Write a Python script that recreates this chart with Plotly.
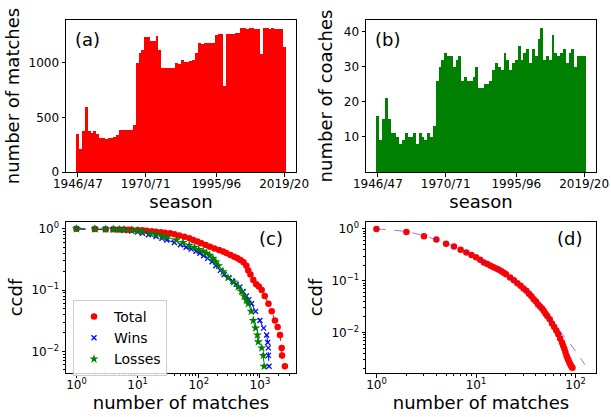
import plotly.graph_objects as go

# ---------------- data ----------------
seasons = [f"{y}/{(y + 1) % 100:02d}" for y in range(1946, 2020)]
season_ticks = ["1946/47", "1970/71", "1995/96", "2019/20"]

matches = [348, 210, 375, 595, 375, 357, 375, 348, 311, 311, 302, 311, 311, 320, 339,
           385, 385, 385, 385, 385, 430, 998, 1084, 1120, 1239, 1239, 1200, 1200, 1245, 1120,
           950, 950, 950, 950, 950, 998, 989, 1026, 1007, 1007, 1017, 1026, 1090, 1181, 1172,
           1181, 1181, 1181, 1181, 1255, 1264, 1264, 788, 1264, 1264, 1264, 1273, 1273, 1319,
           1319, 1310, 1319, 1319, 1310, 1310, 1075, 1319, 1319, 1310, 1319, 1310, 1310, 1310, 1145]

coaches = [16, 9, 15, 21, 15, 11, 11, 10, 8, 9, 11, 10, 10, 11, 8, 11, 10, 9, 11, 10, 13,
           26, 30, 32, 34, 33, 33, 30, 32, 33, 26, 27, 26, 26, 27, 30,
           24, 24, 25, 25, 26, 29, 31, 30, 29, 34, 32, 29, 31, 32, 36, 32, 34, 35, 31, 35,
           33, 38, 41, 32, 33, 32, 39, 34, 33, 34, 35, 31, 34, 35, 30, 33, 33, 33]

tot_x = [1, 2, 3, 4, 5, 6, 7, 8, 10, 12, 14, 17, 20, 24, 28, 34, 40, 48, 58, 70, 81, 95, 110,
         130, 152, 180, 215, 250, 285, 330, 380, 430, 480, 540, 600, 645, 700, 780, 870, 960,
         1070, 1200, 1380, 1560, 1760, 1950, 2130, 2270, 2300, 2560]
tot_y = [1.0, 0.995, 0.99, 0.985, 0.98, 0.975, 0.97, 0.965, 0.955, 0.945, 0.935, 0.915, 0.90,
         0.88, 0.865, 0.845, 0.82, 0.78, 0.74, 0.70, 0.66, 0.62, 0.58, 0.545, 0.51, 0.48, 0.45,
         0.425, 0.40, 0.375, 0.35, 0.33, 0.31, 0.285, 0.25, 0.21, 0.18, 0.146, 0.125, 0.115,
         0.10, 0.08, 0.06, 0.045, 0.032, 0.025, 0.0185, 0.0114, 0.0086, 0.0057]

win_x = [1, 2, 3, 4, 5, 6, 8, 10, 12, 15, 20, 25, 30, 40, 50, 62, 75, 90, 104, 120, 140, 165,
         190, 225, 260, 310, 360, 410, 470, 530, 600, 660, 730, 850, 1000, 1150, 1290, 1340,
         1372, 1380, 1410]
win_y = [1.0, 0.99, 0.985, 0.975, 0.965, 0.95, 0.92, 0.89, 0.85, 0.80, 0.75, 0.70, 0.66, 0.60,
         0.55, 0.50, 0.47, 0.43, 0.40, 0.365, 0.33, 0.29, 0.25, 0.21, 0.18, 0.16, 0.14, 0.125,
         0.113, 0.095, 0.08, 0.07, 0.06, 0.045, 0.032, 0.024, 0.0185, 0.014, 0.0114, 0.0086,
         0.0057]

los_x = [1, 2, 3, 4, 5, 6, 8, 10, 12, 16, 20, 25, 30, 43, 55, 70, 85, 100, 118, 134, 150, 170,
         190, 210, 250, 300, 370, 440, 500, 550, 600, 645, 720, 780, 850, 910, 940, 1070, 1137,
         1170]
los_y = [1.0, 0.995, 0.99, 0.985, 0.98, 0.97, 0.95, 0.93, 0.90, 0.85, 0.81, 0.76, 0.73, 0.66,
         0.60, 0.54, 0.50, 0.46, 0.43, 0.40, 0.37, 0.33, 0.29, 0.25, 0.20, 0.16, 0.135, 0.113,
         0.095, 0.08, 0.068, 0.06, 0.045, 0.032, 0.024, 0.0185, 0.0143, 0.0114, 0.0086, 0.0057]

d_x = [1, 2, 3, 4, 5, 6, 7, 8, 9, 10, 11, 12, 13, 14, 15, 16, 17, 18, 19, 20, 22, 24, 26, 28,
       30, 32, 34, 36, 38, 40, 42, 44, 46, 48, 50, 52, 55, 58, 61, 64, 67, 70, 73, 75, 77, 79,
       81, 83, 85, 87, 89, 91, 93]
d_y = [1.0, 0.877, 0.724, 0.625, 0.516, 0.459, 0.396, 0.352, 0.313, 0.283, 0.255, 0.226, 0.21,
       0.195, 0.182, 0.172, 0.164, 0.153, 0.142, 0.133, 0.116, 0.102, 0.09, 0.08, 0.071, 0.064,
       0.056, 0.05, 0.044, 0.040, 0.035, 0.032, 0.029, 0.026, 0.023, 0.021, 0.018, 0.015,
       0.0128, 0.011, 0.0093, 0.0077, 0.0064, 0.0056, 0.0049, 0.0042, 0.0036, 0.0032, 0.0029,
       0.0026, 0.0024, 0.0022, 0.0021]

fit_x = [1, 2, 3, 5, 7, 10, 15, 20, 30, 40, 55, 70, 85, 100, 124]
fit_y = [1.0, 0.885, 0.74, 0.53, 0.405, 0.29, 0.185, 0.13, 0.07, 0.041, 0.018, 0.0105, 0.0066,
         0.0044, 0.0024]

# ---------------- figure ----------------
W, H = 611, 417
FONT = "DejaVu Sans"
RED, GREEN, BLUE = "#ff0000", "#008000", "#0000ff"


def xd(a, b):
    return [a / W, b / W]


def yd(top, bottom):
    return [1 - bottom / H, 1 - top / H]


fig = go.Figure()

fig.add_trace(go.Bar(x=seasons, y=matches, marker=dict(color=RED, line=dict(width=0)),
                     xaxis="x", yaxis="y", showlegend=False))
fig.add_trace(go.Bar(x=seasons, y=coaches, marker=dict(color=GREEN, line=dict(width=0)),
                     xaxis="x2", yaxis="y2", showlegend=False))

# panel (c): dashed connecting lines then markers
for xs, ys, col in [(tot_x, tot_y, RED), (win_x, win_y, BLUE), (los_x, los_y, GREEN)]:
    fig.add_trace(go.Scatter(x=xs, y=ys, mode="lines", line=dict(color=col, width=1, dash="dash"),
                             xaxis="x3", yaxis="y3", showlegend=False, hoverinfo="skip"))
fig.add_trace(go.Scatter(x=tot_x, y=tot_y, mode="markers", name="Total",
                         marker=dict(color=RED, size=6.5, symbol="circle"),
                         xaxis="x3", yaxis="y3"))
fig.add_trace(go.Scatter(x=win_x, y=win_y, mode="markers", name="Wins",
                         marker=dict(color=BLUE, size=5, symbol="x-thin",
                                     line=dict(color=BLUE, width=1.3)),
                         xaxis="x3", yaxis="y3"))
fig.add_trace(go.Scatter(x=los_x, y=los_y, mode="markers", name="Losses",
                         marker=dict(color=GREEN, size=7, symbol="star"),
                         xaxis="x3", yaxis="y3"))

# panel (d)
fig.add_trace(go.Scatter(x=d_x, y=d_y, mode="markers", marker=dict(color=RED, size=6.5),
                         xaxis="x4", yaxis="y4", showlegend=False))
fig.add_trace(go.Scatter(x=fit_x, y=fit_y, mode="lines",
                         line=dict(color="rgba(40,40,255,0.6)", width=1, dash="dash", shape="spline"),
                         xaxis="x4", yaxis="y4", showlegend=False))

axis_common = dict(showline=True, linecolor="black", linewidth=1, mirror=True,
                   ticks="outside", ticklen=3.5, tickwidth=0.8, tickcolor="black",
                   showgrid=False, zeroline=False, automargin=False,
                   tickfont=dict(family=FONT, size=12, color="black"))
xaxis_common = dict(axis_common, ticklabelstandoff=-3)
title_font = dict(family=FONT, size=18, color="black")

minor_x3 = [m * 10 ** k for k in range(0, 4) for m in range(2, 10)]
minor_y3 = [m * 10 ** k for k in range(-3, 1) for m in range(2, 10)]
minor_x4 = [m * 10 ** k for k in range(0, 3) for m in range(2, 10)]
minor_common = dict(ticks="outside", ticklen=2, tickwidth=0.6, tickcolor="black", showgrid=False)

fig.update_layout(
    width=W, height=H, margin=dict(l=0, r=0, t=0, b=0),
    paper_bgcolor="white", plot_bgcolor="white", bargap=0,
    font=dict(family=FONT, color="black"),
    xaxis=dict(xaxis_common, domain=xd(66, 296), anchor="y", type="category",
               range=[-4.2, 77.2], tickmode="array", tickvals=season_ticks, ticktext=season_ticks,
               title=dict(text="season", font=title_font, standoff=0)),
    yaxis=dict(axis_common, domain=yd(20, 172), anchor="x", range=[0, 1390],
               tickvals=[0, 500, 1000], ticktext=["0", "500", "1000"],
               title=dict(text="number of matches", font=title_font, standoff=4)),
    xaxis2=dict(xaxis_common, domain=xd(366, 596), anchor="y2", type="category",
                range=[-4.2, 77.2], tickmode="array", tickvals=season_ticks, ticktext=season_ticks,
                title=dict(text="season", font=title_font, standoff=0)),
    yaxis2=dict(axis_common, domain=yd(20, 172), anchor="x2", range=[0, 43.4],
                tickvals=[10, 20, 30, 40],
                title=dict(text="number of coaches", font=title_font, standoff=6)),
    xaxis3=dict(xaxis_common, domain=xd(66, 296), anchor="y3", type="log",
                range=[-0.171, 3.59], tickmode="array", tickvals=[1, 10, 100, 1000],
                ticktext=["10<sup>0</sup>", "10<sup>1</sup>", "10<sup>2</sup>", "10<sup>3</sup>"],
                minor=dict(minor_common, tickvals=minor_x3),
                title=dict(text="number of matches", font=title_font, standoff=0)),
    yaxis3=dict(axis_common, domain=yd(222, 373), anchor="x3", type="log",
                range=[-2.353, 0.112], tickmode="array", tickvals=[0.01, 0.1, 1],
                ticktext=["10<sup>−2</sup>", "10<sup>−1</sup>", "10<sup>0</sup>"],
                minor=dict(minor_common, tickvals=minor_y3),
                title=dict(text="ccdf", font=title_font, standoff=4)),
    xaxis4=dict(xaxis_common, domain=xd(366, 596), anchor="y4", type="log",
                range=[-0.105, 2.205], tickmode="array", tickvals=[1, 10, 100],
                ticktext=["10<sup>0</sup>", "10<sup>1</sup>", "10<sup>2</sup>"],
                minor=dict(minor_common, tickvals=minor_x4),
                title=dict(text="number of matches", font=title_font, standoff=0)),
    yaxis4=dict(axis_common, domain=yd(222, 373), anchor="x4", type="log",
                range=[-2.78, 0.134], tickmode="array", tickvals=[0.01, 0.1, 1],
                ticktext=["10<sup>−2</sup>", "10<sup>−1</sup>", "10<sup>0</sup>"],
                minor=dict(minor_common, tickvals=minor_y3),
                title=dict(text="ccdf", font=title_font, standoff=4)),
    legend=dict(x=73 / W, y=1 - 300 / H, xanchor="left", yanchor="top",
                bgcolor="rgba(255,255,255,0.8)", bordercolor="#cccccc", borderwidth=1,
                font=dict(family=FONT, size=14, color="black"), tracegroupgap=0),
)

panel_font = dict(family=FONT, size=18, color="black")
for txt, x, y, anchor in [("(a)", 73, 40, "left"), ("(b)", 373, 40, "left"),
                          ("(c)", 285, 238, "right"), ("(d)", 584, 238, "right")]:
    fig.add_annotation(text=txt, xref="paper", yref="paper", x=x / W, y=1 - y / H,
                       xanchor=anchor, yanchor="middle", showarrow=False, font=panel_font)

fig.write_html("out.html", config={"displayModeBar": False},
               post_script="document.body.style.margin='0';document.body.style.overflow='hidden';")
